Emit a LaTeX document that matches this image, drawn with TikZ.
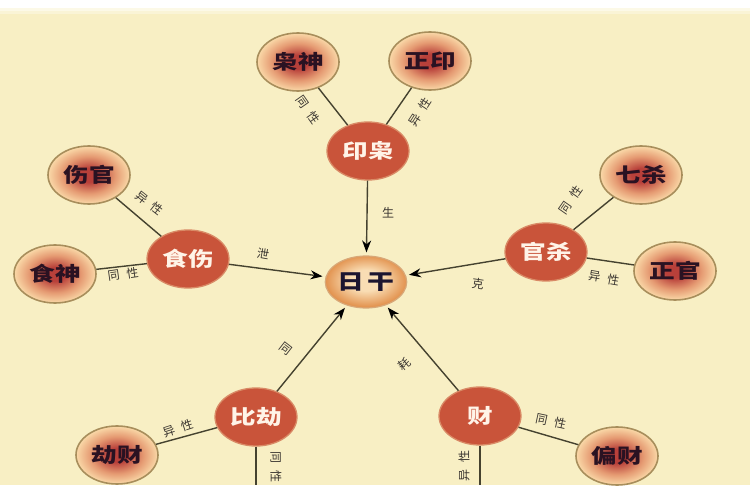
\documentclass[tikz,border=0pt]{standalone}
\usepackage{fontspec}
\usepackage{graphicx}
\newfontfamily\cjk{Noto Sans CJK SC}
\usetikzlibrary{shapes.geometric,arrows.meta}
\definecolor{bg}{HTML}{F8EFC4}
\definecolor{ocore}{HTML}{B8403A}
\definecolor{omid}{HTML}{E59A72}
\definecolor{oedge}{HTML}{FAD9A8}
\definecolor{oborder}{HTML}{A88E5C}
\definecolor{otext}{HTML}{2A1222}
\definecolor{ifill}{HTML}{C9543A}
\definecolor{iborder}{HTML}{D98A66}
\definecolor{itext}{HTML}{FFF4E8}
\definecolor{sinner}{HTML}{F9DDB4}
\definecolor{souter}{HTML}{E2924E}
\definecolor{sborder}{HTML}{D8A878}
\definecolor{stext}{HTML}{1C1530}
\definecolor{lcol}{HTML}{45422F}
\definecolor{labcol}{HTML}{3A3530}
\pgfdeclareradialshading{outerball}{\pgfpoint{0bp}{0bp}}{color(0bp)=(ocore);color(6bp)=(ocore);color(16bp)=(omid);color(25bp)=(oedge);color(50bp)=(oedge)}
\pgfdeclareradialshading{sunball}{\pgfpoint{0bp}{2bp}}{color(0bp)=(sinner);color(10bp)=(sinner);color(25bp)=(souter);color(50bp)=(souter)}
\newcommand\widetxt[1]{\scalebox{1.28}[1]{#1}}
\newcommand\twolab[2]{#1\hspace{7pt}#2}
\tikzset{
  outerball/.style={ellipse, draw=oborder, line width=1.6pt, shading=outerball,
    minimum width=82pt, minimum height=58pt, inner sep=0pt, text=otext,
    font=\cjk\bfseries\fontsize{20}{20}\selectfont},
  innerball/.style={ellipse, draw=iborder, line width=1.3pt, fill=ifill,
    minimum width=82pt, minimum height=58pt, inner sep=0pt, text=itext,
    font=\cjk\bfseries\fontsize{20}{20}\selectfont},
  sunnode/.style={ellipse, draw=sborder, line width=1.2pt, shading=sunball,
    minimum width=78pt, minimum height=52pt, inner sep=0pt, text=stext,
    font=\cjk\bfseries\fontsize{21}{21}\selectfont},
  link/.style={draw=lcol, line width=1.4pt},
  arr/.style={link, -{Stealth[length=12pt,width=9pt,color=black]}, shorten >=3pt},
  lab/.style={text=labcol, inner sep=0pt, font=\cjk\fontsize{12}{12}\selectfont},
}
\begin{document}
\begin{tikzpicture}[x=1pt,y=-1pt]
\useasboundingbox (0,0) rectangle (750,500);
\fill[bg] (0,0) rectangle (750,500);
\fill[white] (0,0) rectangle (750,8);
\fill[white!60!bg] (0,8) rectangle (750,11);
\fill[white!30!bg] (0,11) rectangle (750,14);
\fill[white] (0,485) rectangle (750,500);

% nodes
\node[sunnode] (rg) at (366,282) {\widetxt{日\hspace{3pt}干}};
\node[innerball] (yx) at (368,151) {\widetxt{印枭}};
\node[outerball] (xs) at (298,62) {\widetxt{枭神}};
\node[outerball] (zy) at (430,61) {\widetxt{正印}};
\node[innerball] (ss) at (188,259) {\widetxt{食伤}};
\node[outerball] (sg) at (89,175) {\widetxt{伤官}};
\node[outerball] (shen) at (55,274) {\widetxt{食神}};
\node[innerball] (gs) at (546,252) {\widetxt{官杀}};
\node[outerball] (qs) at (641,175) {\widetxt{七杀}};
\node[outerball] (zg) at (675,271) {\widetxt{正官}};
\node[innerball] (bj) at (256,417) {\widetxt{比劫}};
\node[outerball] (jc) at (117,455) {\widetxt{劫财}};
\node[innerball] (cai) at (480,416) {\widetxt{财}};
\node[outerball] (pc) at (617,456) {\widetxt{偏财}};
\coordinate (bjend) at (256,485);
\coordinate (caiend) at (480,485);

% connectors
\draw[link] (xs) -- (yx);
\draw[link] (zy) -- (yx);
\draw[link] (sg) -- (ss);
\draw[link] (shen) -- (ss);
\draw[link] (qs) -- (gs);
\draw[link] (zg) -- (gs);
\draw[link] (jc) -- (bj);
\draw[link] (bj) -- (bjend);
\draw[link] (pc) -- (cai);
\draw[link] (cai) -- (caiend);
\draw[arr] (yx) -- (rg);
\draw[arr] (ss) -- (rg);
\draw[arr] (gs) -- (rg);
\draw[arr] (bj) -- (rg);
\draw[arr] (cai) -- (rg);

% labels
\node[lab, rotate=-55] (l1) at (308,110) {\twolab{同}{性}};
\node[lab, rotate=57] (l2) at (420,112) {\twolab{异}{性}};
\node[lab] (l3) at (388,213) {生};
\node[lab, rotate=-10] (l4) at (263,254) {泄};
\node[lab, rotate=-8] (l5) at (478,284) {克};
\node[lab, rotate=-38] (l6) at (150,203) {\twolab{异}{性}};
\node[lab, rotate=8] (l7) at (123,274) {\twolab{同}{性}};
\node[lab, rotate=55] (l8) at (571,200) {\twolab{同}{性}};
\node[lab, rotate=-10] (l9) at (604,278) {\twolab{异}{性}};
\node[lab, rotate=-38] (l10) at (286,349) {同};
\node[lab, rotate=38] (l11) at (404,364) {耗};
\node[lab, rotate=18] (l12) at (178,428) {\twolab{异}{性}};
\node[lab, rotate=-90] (l13) at (276,467) {\twolab{同}{性}};
\node[lab, rotate=-12] (l14) at (551,421) {\twolab{同}{性}};
\node[lab, rotate=90] (l15) at (464,466) {\twolab{异}{性}};
\end{tikzpicture}
\end{document}
